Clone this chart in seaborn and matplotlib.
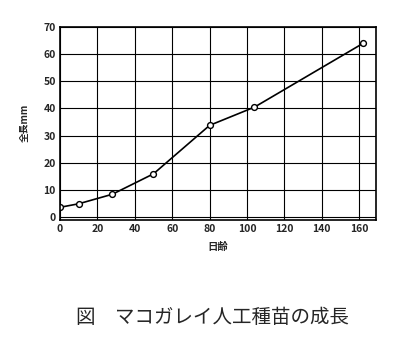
import matplotlib
matplotlib.use("Agg")
import matplotlib.pyplot as plt
import seaborn as sns
import pandas as pd

days = [0, 10, 28, 50, 80, 104, 162]
length_mm = [3.7, 5.0, 8.5, 16.0, 33.8, 40.5, 63.9]
xticks = [0, 20, 40, 60, 80, 100, 120, 140, 160]
yticks = [0, 10, 20, 30, 40, 50, 60, 70]

sns.set_style("white")
plt.rcParams['font.family'] = ['Noto Sans CJK JP', 'DejaVu Sans']

df = pd.DataFrame({"day": days, "len": length_mm})

fig = plt.figure(figsize=(4.0, 3.53), dpi=100)
ax = fig.add_axes([0.15, 0.378, 0.79, 0.546])
ax.set_axisbelow(True)
ax.grid(True, color="black", linewidth=0.8)
sns.lineplot(data=df, x="day", y="len", ax=ax, color="black", linewidth=1.2,
             marker="o", markersize=4.2, markerfacecolor="white",
             markeredgecolor="black", markeredgewidth=1.0)
ax.set_xlim(0, 169)
ax.set_ylim(-0.8, 70)
ax.set_xticks(xticks)
ax.set_yticks(yticks)
ax.set_xticklabels([str(t) for t in xticks], fontsize=7.5, fontweight="bold")
ax.set_yticklabels([str(t) for t in yticks], fontsize=7.5, fontweight="bold")
ax.tick_params(length=0, pad=3)
for s in ax.spines.values():
    s.set_color("black")
    s.set_linewidth(1.2)
ax.set_xlabel("日齢", fontsize=7.5, fontweight="bold", labelpad=6)
ax.set_ylabel("全長mm", fontsize=7, fontweight="bold", labelpad=10)
fig.text(0.53, 0.10, "図　マコガレイ人工種苗の成長", fontsize=14,
         ha="center", va="center")
fig.savefig("out.png", dpi=100)
